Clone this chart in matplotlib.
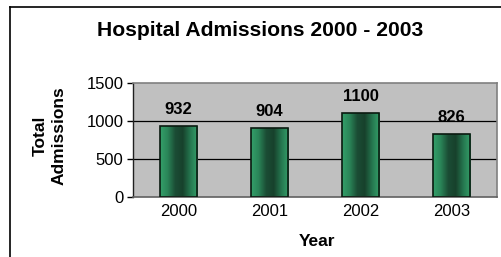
import matplotlib

matplotlib.use("Agg")
import matplotlib.pyplot as plt
import numpy as np
from matplotlib.colors import LinearSegmentedColormap
from matplotlib.patches import Rectangle

years = ["2000", "2001", "2002", "2003"]
admissions = [932, 904, 1100, 826]
y_ticks = [0, 500, 1000, 1500]

plt.rcParams["font.family"] = ["Liberation Sans", "DejaVu Sans"]

W, H = 501, 257
fig = plt.figure(figsize=(W / 100, H / 100), dpi=100)
fig.patch.set_facecolor("white")

# outer chart border (only top and left visible in the crop)
fig.add_artist(plt.Line2D([10 / W, 10 / W], [0, 1 - 6.5 / H], color="black", linewidth=1.2))
fig.add_artist(plt.Line2D([10 / W, 1], [1 - 6.5 / H, 1 - 6.5 / H], color="black", linewidth=1.2))

ax = fig.add_axes([133 / W, 1 - 197 / H, 364 / W, 114 / H])
ax.set_facecolor("#C0C0C0")

for y in y_ticks[1:-1]:
    ax.axhline(y, color="black", linewidth=0.9, zorder=1)

cmap = LinearSegmentedColormap.from_list(
    "cyl", ["#34a06a", "#2a8558", "#1b4d35", "#17412c", "#25774f", "#34a06a"]
)
grad = np.linspace(0, 1, 256).reshape(1, -1)
width = 0.41
x = np.arange(len(years))
bars = ax.bar(x, admissions, width=width, color="none", edgecolor="#0a1a10", linewidth=1.2, zorder=3)
for bar in bars:
    bx, by = bar.get_x(), bar.get_y()
    bw, bh = bar.get_width(), bar.get_height()
    im = ax.imshow(grad, cmap=cmap, aspect="auto", extent=[bx, bx + bw, by, by + bh], zorder=2)
    im.set_clip_path(Rectangle((bx, by), bw, bh, transform=ax.transData))

ax.set_xlim(-0.5, len(years) - 0.5)
ax.set_ylim(0, 1500)

for xi, v in zip(x, admissions):
    ax.annotate(str(v), (xi, v), xytext=(0, 12), textcoords="offset points",
                ha="center", va="center", fontsize=12, fontweight="bold")

ax.set_xticks(x)
ax.set_xticklabels(years, fontsize=12)
ax.set_yticks(y_ticks)
ax.set_yticklabels([str(t) for t in y_ticks], fontsize=12)
ax.tick_params(axis="x", length=0, pad=5)
ax.tick_params(axis="y", length=4, width=1, pad=3)

for side in ["top", "right"]:
    ax.spines[side].set_color("#808080")
    ax.spines[side].set_linewidth(1.2)
ax.spines["left"].set_color("#202020")
ax.spines["bottom"].set_color("#606060")
ax.spines["left"].set_linewidth(1.0)
ax.spines["bottom"].set_linewidth(1.2)

fig.text(317 / W, 1 - 241 / H, "Year", ha="center", va="center",
         fontsize=12.5, fontweight="bold")
fig.text(50 / W, 1 - 136 / H, "Total\nAdmissions", ha="center", va="center",
         rotation=90, fontsize=12.5, fontweight="bold", linespacing=1.3)
fig.text(260 / W, 1 - 31 / H, "Hospital Admissions 2000 - 2003",
         ha="center", va="center", fontsize=15.2, fontweight="bold")

fig.savefig("out.png", dpi=100)
